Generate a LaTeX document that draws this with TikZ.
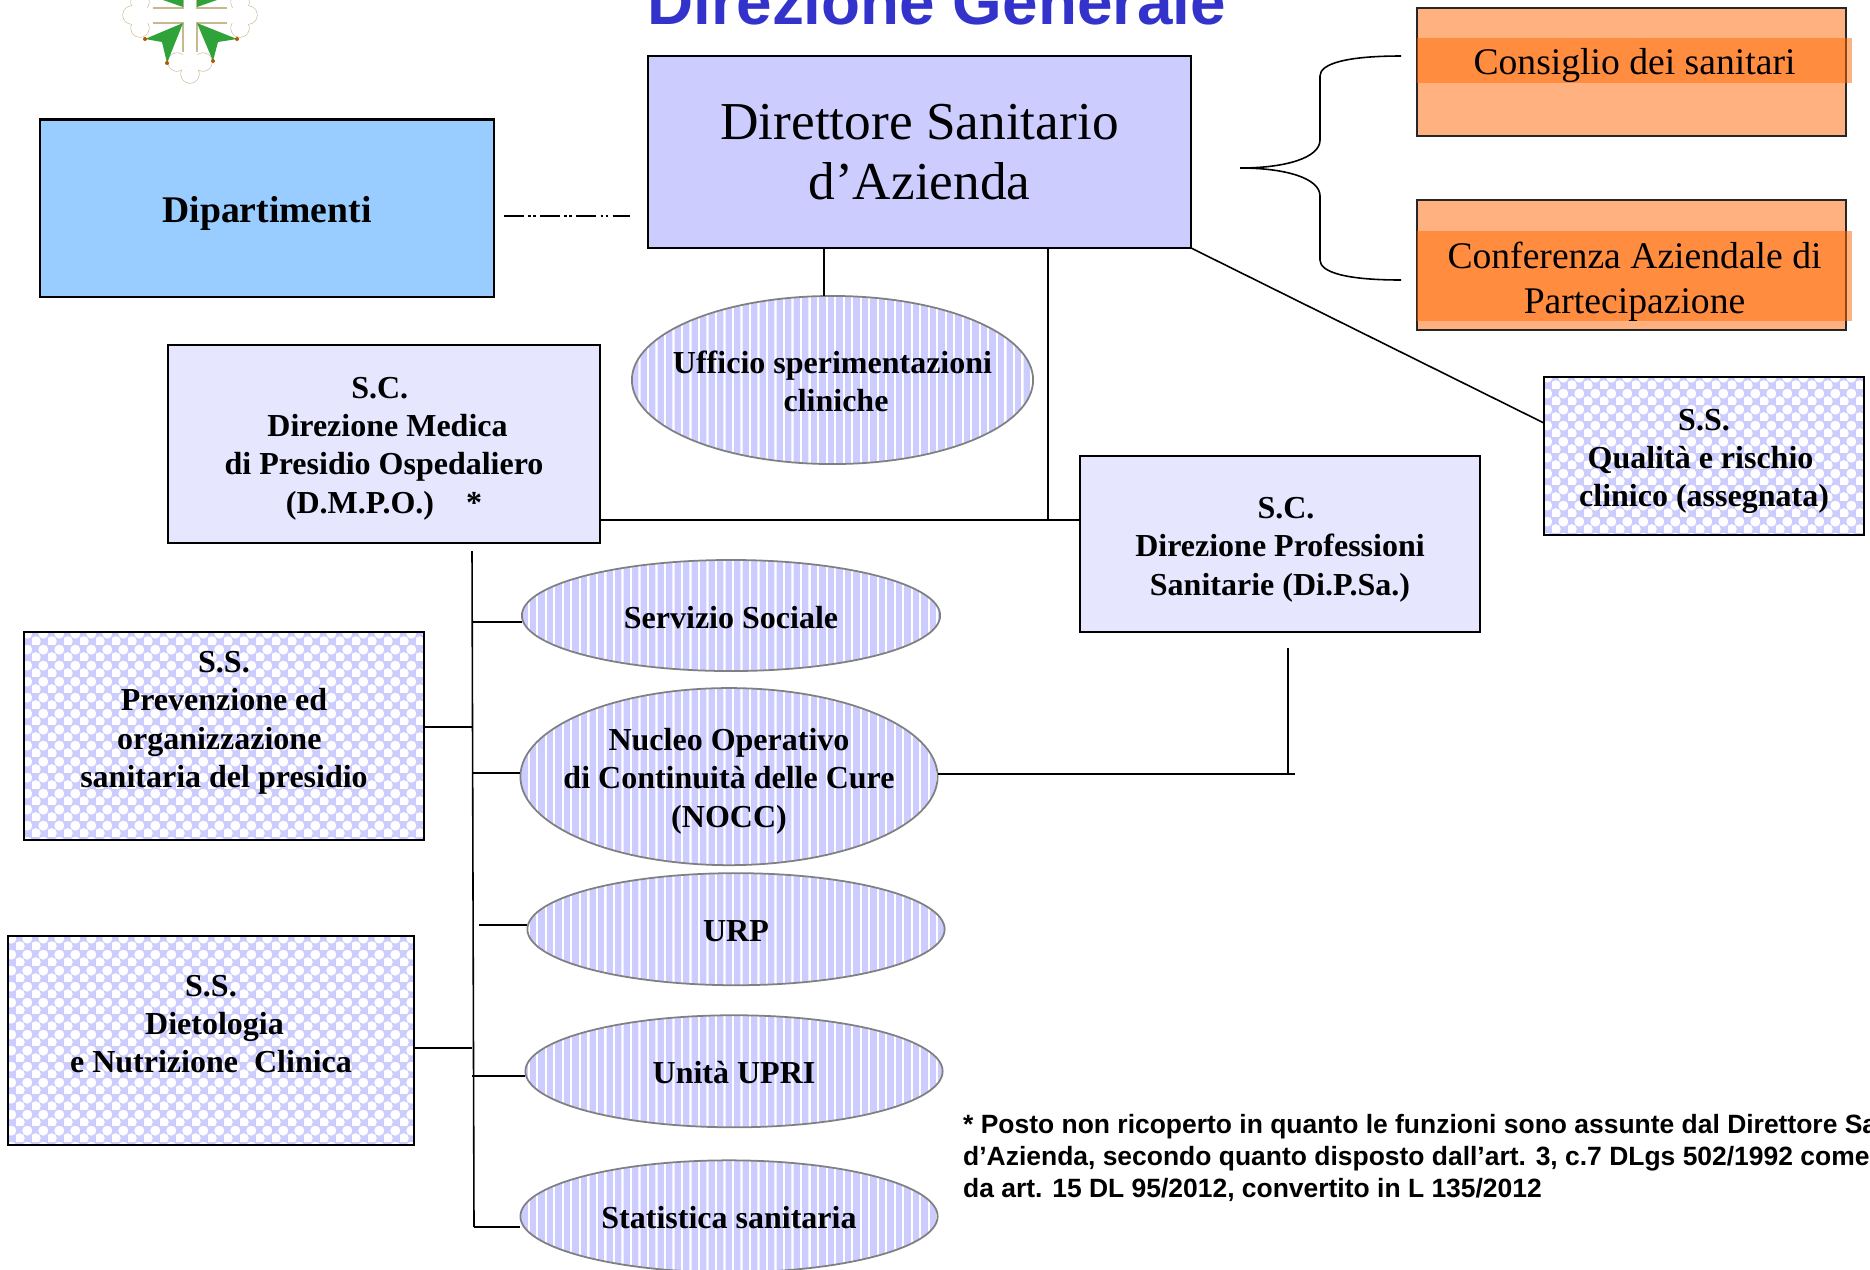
\documentclass[tikz,border=0pt]{standalone}
\usepackage{fontspec}
\setmainfont{Liberation Serif}
\newfontfamily\arialfont{Liberation Sans}
\usetikzlibrary{patterns,positioning,shapes.geometric}
\definecolor{deptblue}{HTML}{99CCFF}
\definecolor{headlilac}{HTML}{CCCCFF}
\definecolor{unitlilac}{HTML}{E6E6FF}
\definecolor{bandorange}{HTML}{FF6600}
\definecolor{titleblue}{HTML}{3333CC}
\definecolor{emblemgreen}{HTML}{2FA33A}
\definecolor{emblemtan}{HTML}{C9B78F}
\newcommand{\dropto}[1]{\rule{0pt}{#1}}
\newcommand{\padright}[1]{\rule{#1}{0pt}}
\pgfdeclarepatternformonly{officestripes}{\pgfqpoint{0pt}{0pt}}{\pgfqpoint{.65pt}{1pt}}{\pgfqpoint{2.42pt}{1pt}}{%
  \pgfpathrectangle{\pgfqpoint{0pt}{0pt}}{\pgfqpoint{.65pt}{1pt}}\pgfusepath{fill}}
\pgfdeclarepatternformonly{unitchecks}{\pgfqpoint{0pt}{0pt}}{\pgfqpoint{4.55pt}{4.55pt}}{\pgfqpoint{4.55pt}{4.55pt}}{%
  \pgfpathcircle{\pgfqpoint{1.14pt}{1.14pt}}{1.5pt}\pgfpathcircle{\pgfqpoint{3.41pt}{3.41pt}}{1.5pt}\pgfusepath{fill}}
\tikzset{
    %Define style for boxes
    boxrect/.style={
           rectangle,
           draw=black, line width=.6pt,
           inner sep=0pt, outer sep=0pt,
           align=center,
           font=\fontsize{9.1}{10.9}\selectfont\bfseries
           },
    deptrect/.style={
           boxrect,
           fill=deptblue,
           font=\fontsize{10.7}{12.8}\selectfont\bfseries
           },
    headrect/.style={
           boxrect,
           fill=headlilac,
           font=\fontsize{15.16}{17}\selectfont
           },
    unitrect/.style={
           boxrect,
           fill=unitlilac
           },
    checkrect/.style={
           boxrect,
           preaction={fill=headlilac},
           pattern=unitchecks, pattern color=white
           },
    boardrect/.style={
           rectangle,
           draw=black!85, line width=.5pt,
           fill=bandorange, fill opacity=.5,
           inner sep=0pt, outer sep=0pt,
           minimum width=4.29cm
           },
    band/.style={
           rectangle,
           fill=bandorange, fill opacity=.5, text opacity=1,
           inner sep=0pt, outer sep=0pt,
           minimum width=4.35cm,
           align=center,
           font=\fontsize{10.7}{12.8}\selectfont
           },
    office/.style={
           ellipse,
           draw=black!50, line width=.5pt,
           preaction={fill=headlilac},
           pattern=officestripes, pattern color=white,
           inner sep=0pt, outer sep=0pt,
           minimum width=4.17cm,
           minimum height=1.12cm
           },
    officetext/.style={
           align=center,
           inner sep=0pt,
           font=\fontsize{9.1}{10.9}\selectfont\bfseries
           },
    % Define line style
    pil/.style={
           draw=black, line width=.45pt}
}
\begin{document}
\begin{tikzpicture}[x=.01cm,y=-.01cm]
\useasboundingbox (0,0) rectangle (1870,1269);
\clip (0,0) rectangle (1870,1269);
 %emblem
\fill[emblemtan]
    (132,15) circle (9.6) (140,2) circle (9.6) (140,28) circle (9.6)
    (248,15) circle (9.6) (240,2) circle (9.6) (240,28) circle (9.6)
    (177,62) circle (9.6) (203,62) circle (9.6) (190,74) circle (9.6);
\fill[white]
    (132,15) circle (9) (140,2) circle (9) (140,28) circle (9)
    (248,15) circle (9) (240,2) circle (9) (240,28) circle (9)
    (177,62) circle (9) (203,62) circle (9) (190,74) circle (9);
\fill[white] (136,8) rectangle (244,23) (183,0) rectangle (197,66);
\draw[emblemtan,line width=.4pt] (153,8) -- (183,8) -- (183,0) (227,8) -- (197,8) -- (197,0)
    (153,23) -- (183,23) -- (183,52) (227,23) -- (197,23) -- (197,52);
\fill[emblemgreen] (183,23) -- (145,39) -- (162,42) -- (167,63) -- cycle
    (197,23) -- (237,39) -- (218,42) -- (213,61) -- cycle
    (183,7) -- (163,0) -- (183,0) -- cycle (197,7) -- (217,0) -- (197,0) -- cycle;
\fill[orange!70!black] (145,39) circle (2) (167,63) circle (2) (237,39) circle (2) (213,61) circle (2);
 %nodes
\node[anchor=base,text=titleblue,font=\fontsize{18.15}{20}\selectfont\arialfont\bfseries](title) at (937,24) {Direzione Generale};
\node[deptrect, minimum width=4.54cm, minimum height=1.77cm](dept) at (267,208) {\dropto{10.5pt}Dipartimenti};
\node[headrect, minimum width=5.43cm, minimum height=1.92cm](dsa) at (919.5,152) {Direttore Sanitario\\d’Azienda};
\node[boardrect, minimum height=1.28cm](consiglio) at (1631.5,72) {};
\node[boardrect, minimum height=1.30cm, below=.64cm of consiglio](conferenza) {};
\node[band, minimum height=.45cm](consband) at (1634.5,60.5) {\dropto{10pt}Consiglio dei sanitari};
\node[band, minimum height=.90cm](confband) at (1634.5,276) {\dropto{10.7pt}Conferenza Aziendale di\\Partecipazione};
\node[unitrect, minimum width=4.32cm, minimum height=1.98cm](dmpo) at (384,444) {\dropto{8.5pt}S.C.\padright{2.4pt}\\\hspace*{2pt}Direzione Medica\\di Presidio Ospedaliero\\(D.M.P.O.)\quad*};
\node[unitrect, minimum width=4.00cm, minimum height=1.76cm](dipsa) at (1280,544) {\dropto{9.2pt}\hspace*{3.4pt}S.C.\\Direzione Professioni\\Sanitarie (Di.P.Sa.)};
\node[checkrect, minimum width=3.20cm, minimum height=1.58cm](qualita) at (1704,456) {\dropto{9.2pt}S.S.\\Qualità e rischio\padright{2pt}\\clinico (assegnata)};
\node[checkrect, minimum width=4.00cm, minimum height=2.08cm](prev) at (224,736) {\dropto{7.5pt}S.S.\\Prevenzione ed\\organizzazione\padright{2.7pt}\\sanitaria del presidio\\~};
\node[checkrect, minimum width=4.06cm, minimum height=2.09cm](diet) at (211,1040.5) {\dropto{7.5pt}S.S.\\\hspace*{2pt}Dietologia\\e Nutrizione\ \ Clinica\\~};
\node[office, minimum width=4.01cm, minimum height=1.68cm, label={[officetext]center:{\dropto{7.3pt}Ufficio sperimentazioni\\\hspace*{2pt}cliniche}}](uff) at (832.5,380) {};
\node[office, minimum width=4.18cm, minimum height=1.11cm, label={[officetext]center:{\dropto{7.5pt}Servizio Sociale}}](serv) at (731,615.5) {};
\node[office, minimum height=1.77cm, below=.17cm of serv, xshift=-.02cm, label={[officetext]center:{\dropto{8.9pt}Nucleo Operativo\\di Continuità delle Cure\\(NOCC)}}](nocc) {};
\node[office, below=.08cm of nocc, xshift=.07cm, label={[officetext]center:{\dropto{7.2pt}URP}}](urp) {};
\node[office, below=.30cm of urp, xshift=-.02cm, label={[officetext]center:{\dropto{6.9pt}Unità UPRI}}](upri) {};
\node[office, below=.33cm of upri, xshift=-.05cm, label={[officetext]center:{\dropto{6.9pt}Statistica sanitaria}}](stat) {};
\node[anchor=north west,inner sep=0pt,align=left,font=\fontsize{7.52}{9.15}\selectfont\arialfont\bfseries](nota) at (962.5,1113.5) {* Posto non ricoperto in quanto le funzioni sono assunte dal Direttore Sa\\d’Azienda, secondo quanto disposto dall’art. 3, c.7 DLgs 502/1992 come\\da art. 15 DL 95/2012, convertito in L 135/2012};
 %free ends
\coordinate (deptend) at (504,216);
\coordinate (dsaend) at (630,216);
\coordinate (bracetip) at (1240,168);
\coordinate (bracetop) at (1401,56);
\coordinate (bracebot) at (1401,280);
\coordinate (uffstem) at (824,296);
\coordinate (dsastem) at (1048,520);
\coordinate (trunktop) at (472,551);
\coordinate (trunkbot) at (474,1227);
\coordinate (dipsastem) at (1288,648);
\coordinate (nocccorner) at (1288,774);
\coordinate (noccend) at (1295,774);
\coordinate (urpstub) at (479,925);
 %connectors
\draw[pil,line width=.6pt,dash pattern=on 5.6pt off 1.3pt on .7pt off .7pt on .7pt off 1.3pt] (deptend) -- (dsaend);
\draw[pil] (bracetop) .. controls (1345,56) and (1320,64) .. (1320,76) -- (1320,140)
    .. controls (1320,158) and (1285,168) .. (bracetip)
    .. controls (1285,168) and (1320,178) .. (1320,196) -- (1320,260)
    .. controls (1320,272) and (1345,280) .. (bracebot);
\path[pil]
    (uffstem |- dsa.south) edge (uffstem)
    (dsastem |- dsa.south) edge (dsastem)
    (dmpo.east |- dsastem) edge (dipsa.west |- dsastem)
    (dsa.south east) edge (qualita.west |- 0,423)
    (trunktop) edge (trunkbot)
    (trunktop |- 0,622) edge (serv.west |- 0,622)
    (prev.east |- 0,727) edge (trunktop |- 0,727)
    (trunktop |- 0,773) edge (nocc.west |- 0,773)
    (urpstub) edge (urp.west |- urpstub)
    (trunktop |- 0,1076) edge (upri.west |- 0,1076)
    (diet.east |- 0,1048) edge (trunktop |- 0,1048)
    (trunkbot) edge (stat.west |- trunkbot)
    (nocc.east |- nocccorner) edge (noccend)
    (dipsastem) edge (nocccorner);
\end{tikzpicture}
\end{document}
